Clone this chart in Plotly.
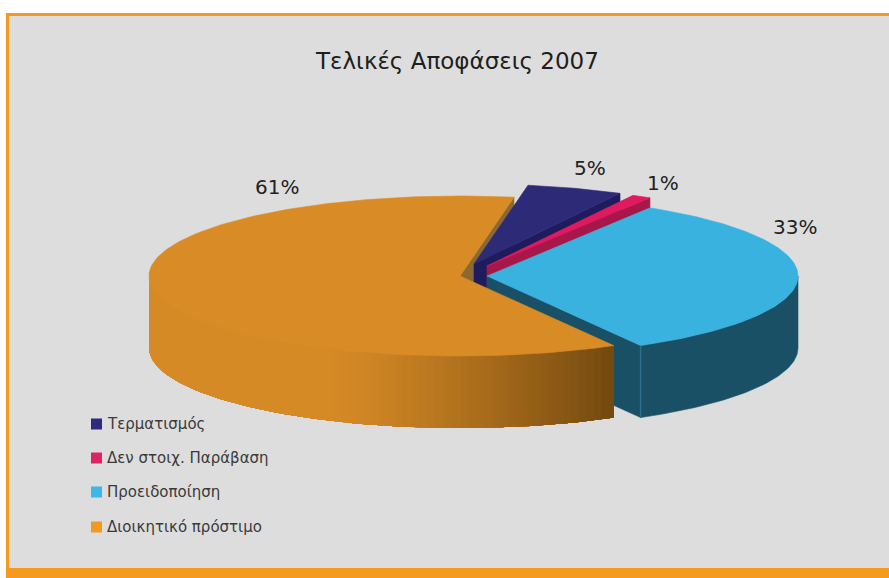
import math
import plotly.graph_objects as go

TITLE = "Τελικές Αποφάσεις 2007"
categories = ["Τερματισμός", "Δεν στοιχ. Παράβαση", "Προειδοποίηση", "Διοικητικό πρόστιμο"]
shares = [5, 1, 33, 61]
labels = ["5%", "1%", "33%", "61%"]

top_colors = ["#2d2a78", "#e01a5e", "#3ab2df", "#d98b26"]
wall_colors = ["#1f1c5e", "#a8174a", "#1a5066", "#8a6a32"]
legend_colors = ["#2e2a80", "#dd2266", "#3ab9e8", "#f09a24"]

# exploded centre of each slice on the canvas (layout, in px axis units)
centers = [(474, 264), (487, 266), (487, 276), (460, 276)]
RX, RY, DEPTH = 311, 80, 72
START = 80.0

# parametric angle span of every slice, running counter-clockwise from START
order = [3, 2, 1, 0]
span = {}
a = START
for i in order:
    span[i] = (a, a + shares[i] * 3.6)
    a += shares[i] * 3.6


def pt(i, ang, dz=0):
    cx, cy = centers[i]
    r = math.radians(ang)
    return cx + RX * math.cos(r), cy - RY * math.sin(r) + dz


def arc(i, a0, a1, dz=0, step=1.0):
    n = max(2, int(abs(a1 - a0) / step) + 1)
    return [pt(i, a0 + (a1 - a0) * k / (n - 1), dz) for k in range(n)]


fig = go.Figure()


def poly(points, color, width=0.6):
    xs = [p[0] for p in points] + [points[0][0]]
    ys = [p[1] for p in points] + [points[0][1]]
    fig.add_trace(go.Scatter(
        x=xs, y=ys, mode="lines", fill="toself", fillcolor=color,
        line=dict(color=color, width=width), hoverinfo="skip", showlegend=False))


def top(i):
    a0, a1 = span[i]
    poly([centers[i]] + arc(i, a0, a1), top_colors[i])


def radial_wall(i, ang, color):
    c = centers[i]
    p = pt(i, ang)
    poly([c, p, (p[0], p[1] + DEPTH), (c[0], c[1] + DEPTH)], color)


def mix(c0, c1, t):
    v0 = [int(c0[k:k + 2], 16) for k in (1, 3, 5)]
    v1 = [int(c1[k:k + 2], 16) for k in (1, 3, 5)]
    return "#" + "".join(f"{round(a_ + (b_ - a_) * t):02x}" for a_, b_ in zip(v0, v1))


# back to front
radial_wall(3, span[3][0], wall_colors[3])

radial_wall(0, span[0][0], wall_colors[0])
top(0)

radial_wall(1, span[1][0], wall_colors[1])
top(1)

# blue slice: inner wall, outer wall, top
blue0, blue1 = span[2]
radial_wall(2, blue0, wall_colors[2])
poly(arc(2, blue0, 360) + arc(2, 360, blue0, DEPTH), wall_colors[2])
top(2)
e = pt(2, blue0)
fig.add_trace(go.Scatter(x=[e[0], e[0]], y=[e[1], e[1] + DEPTH], mode="lines",
                         line=dict(color="#2d708c", width=1.5), hoverinfo="skip", showlegend=False))

# orange slice: graded outer wall (each band overlaps the next, so no seams show), top
or0, or1 = span[3]
a = 180.0
STEP = 1.5
while a < or1:
    b = min(a + STEP, or1)
    x_mid = pt(3, (a + b) / 2)[0]
    t = max(0.0, min(1.0, (x_mid - 330) / (613 - 330)))
    end = or1  # paint through to the slice's end, later bands overlay
    poly(arc(3, a, end, 0, 0.5) + arc(3, end, a, DEPTH, 0.5), mix("#d68a26", "#73490f", t ** 1.25), width=0)
    a = b
top(3)

# pie value labels
label_pos = [(590, 168), (663, 183), (795, 227), (277, 187)]
for txt, (x, y) in zip(labels, label_pos):
    fig.add_annotation(x=x, y=y, text=txt, showarrow=False,
                       font=dict(family="DejaVu Sans", size=20, color="#222222"))

# legend
legend_y = [424, 458, 492, 527]
fig.add_trace(go.Scatter(x=[96.5] * 4, y=legend_y, mode="markers",
                         marker=dict(symbol="square", size=11, color=legend_colors),
                         hoverinfo="skip", showlegend=False))
for txt, y in zip(categories, legend_y):
    fig.add_annotation(x=105, y=y, text=txt, xanchor="left", showarrow=False,
                       font=dict(family="DejaVu Sans", size=15, color="#3a3a3a"))

fig.add_annotation(x=457, y=61, text=TITLE, showarrow=False,
                   font=dict(family="DejaVu Sans", size=23, color="#1e1e1e"))

fig.update_layout(
    width=889, height=578, margin=dict(l=0, r=0, t=0, b=0),
    paper_bgcolor="#ffffff", plot_bgcolor="#ffffff", showlegend=False,
    xaxis=dict(range=[0, 889], visible=False, fixedrange=True),
    yaxis=dict(range=[578, 0], visible=False, fixedrange=True),
    shapes=[
        dict(type="rect", layer="below", x0=6, x1=889, y0=13, y1=578, fillcolor="#f59a1e", line_width=0),
        dict(type="rect", layer="below", x0=9, x1=889, y0=16, y1=568, fillcolor="#dddddd", line_width=0),
    ],
)
fig.write_html("out.html", config={"displayModeBar": False},
               post_script="document.body.style.margin='0';")
